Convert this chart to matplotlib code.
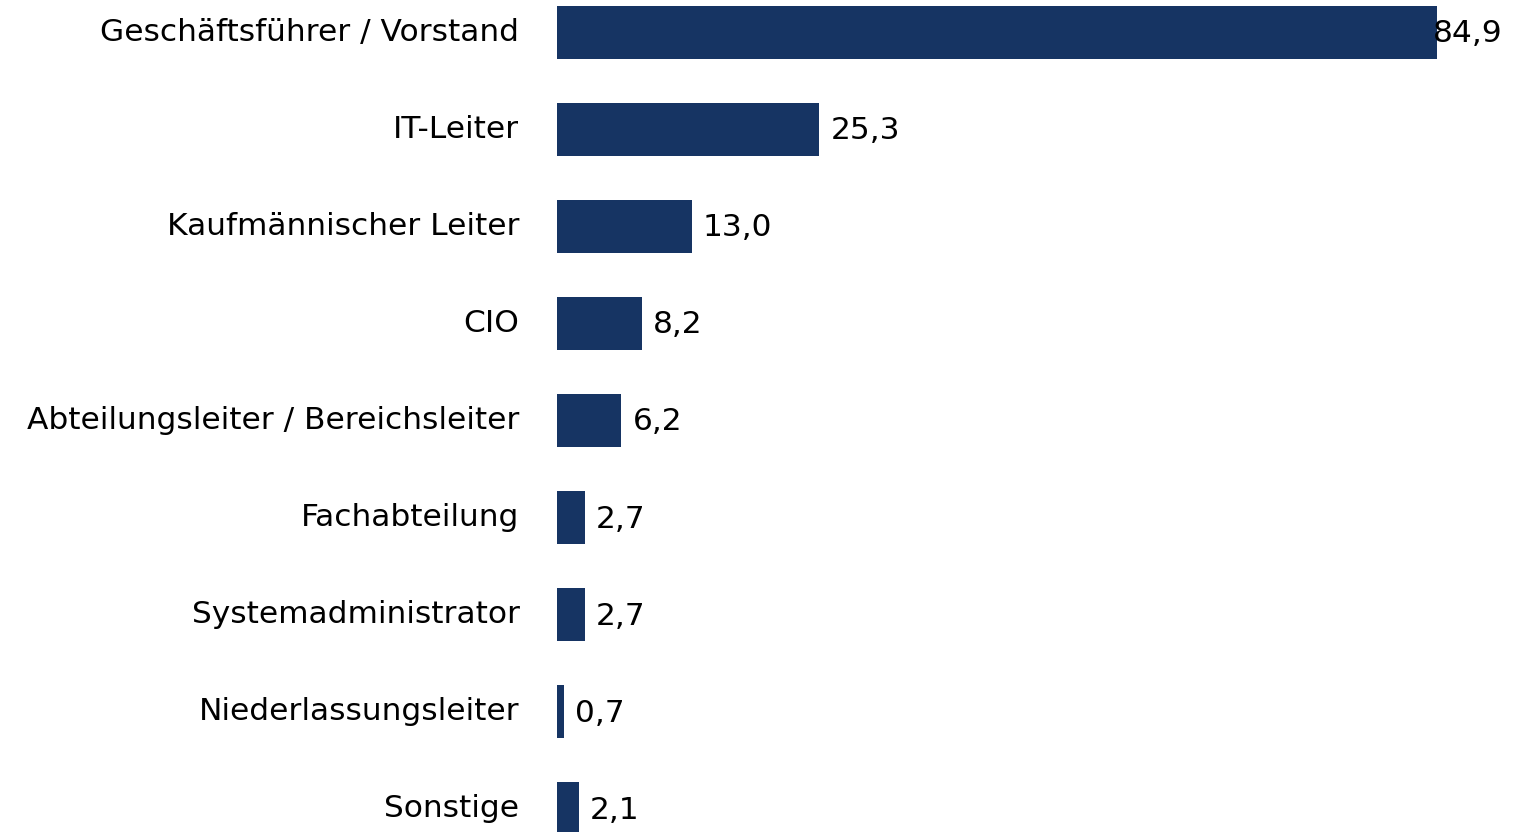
import matplotlib
matplotlib.use('Agg')
import matplotlib.pyplot as plt

categories = ['Geschäftsführer / Vorstand', 'IT-Leiter', 'Kaufmännischer Leiter', 'CIO',
              'Abteilungsleiter / Bereichsleiter', 'Fachabteilung', 'Systemadministrator',
              'Niederlassungsleiter', 'Sonstige']
values = [84.9, 25.3, 13.0, 8.2, 6.2, 2.7, 2.7, 0.7, 2.1]

bar_color = '#163463'

fig = plt.figure(figsize=(15.17, 8.32), dpi=100)
ax = fig.add_axes([557 / 1517, 0, 960 / 1517, 1])

pos = list(range(len(categories)))
ax.barh(pos, values, height=0.55, color=bar_color)
ax.set_xlim(0, 92.6)
ax.set_ylim(8.24, -0.335)

ax.set_yticks(pos)
ax.set_yticklabels(categories, fontsize=22.5)
for lbl in ax.get_yticklabels():
    lbl.set_va('center')
    lbl.set_y(0)
ax.tick_params(axis='y', length=0, pad=27)
ax.set_xticks([])
for s in ax.spines.values():
    s.set_visible(False)

for i, v in enumerate(values):
    txt = f'{v:.1f}'.replace('.', ',')
    # largest label gets pushed back so it stays inside the figure
    dx = -3 if v == max(values) else 8
    ax.annotate(txt, (v, i), xytext=(dx, -1), textcoords='offset points',
                va='center', ha='left', fontsize=22.5)

fig.savefig('out.png', dpi=100)
